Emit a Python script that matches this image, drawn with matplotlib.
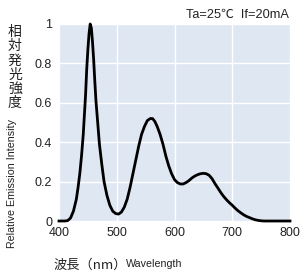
import matplotlib.pyplot as plt

plt.rcParams['font.family'] = ['Liberation Sans', 'Noto Sans CJK JP', 'DejaVu Sans']

# ---------------------------------------------------------------- data
wavelength = [400, 405, 410, 415, 420, 425, 430, 433, 436, 439, 442, 444, 446, 448,
              450, 452, 454, 456, 458, 460, 462, 464, 467, 470, 474, 478, 483, 488,
              493, 498, 503, 508, 513, 518, 523, 528, 533, 538, 543, 548, 553, 558,
              562, 566, 570, 575, 580, 585, 590, 595, 600, 605, 610, 615, 620, 625,
              630, 635, 640, 645, 650, 655, 660, 665, 670, 675, 680, 685, 690, 695,
              700, 705, 710, 715, 720, 725, 730, 735, 740, 745, 750, 755, 760, 780, 800]
intensity = [0, 0, 0, 0.002, 0.015, 0.05, 0.11, 0.17, 0.24, 0.33, 0.44, 0.54, 0.64, 0.77,
             0.87, 0.95, 1.0, 0.98, 0.91, 0.82, 0.71, 0.61, 0.5, 0.39, 0.29, 0.2, 0.13, 0.08,
             0.05, 0.038, 0.035, 0.045, 0.07, 0.11, 0.17, 0.24, 0.31, 0.38, 0.44, 0.48, 0.51, 0.52,
             0.52, 0.505, 0.48, 0.44, 0.39, 0.33, 0.28, 0.24, 0.21, 0.195, 0.188, 0.188, 0.195, 0.205,
             0.218, 0.228, 0.235, 0.24, 0.242, 0.24, 0.232, 0.215, 0.19, 0.168, 0.145, 0.125, 0.108, 0.093,
             0.08, 0.065, 0.052, 0.041, 0.031, 0.023, 0.017, 0.011, 0.006, 0.003, 0.001, 0, 0, 0, 0]

x_ticks = [400, 500, 600, 700, 800]
y_ticks = [0, 0.2, 0.4, 0.6, 0.8, 1]
y_tick_labels = ["0", "0.2", "0.4", "0.6", "0.8", "1"]

ylabel_jp = "相対発光強度"
JP = ['Noto Sans CJK JP', 'DejaVu Sans']
W, H = 305, 272   # pixel size, used to place the free texts

# ---------------------------------------------------------------- figure
fig = plt.figure(figsize=(W / 100, H / 100), dpi=100)
ax = fig.add_axes([59 / W, 1 - 221 / H, 231 / W, 197 / H])
ax.set_facecolor("#dfe7f3")

ax.plot(wavelength, intensity, color="black", lw=2.0, clip_on=False, zorder=3)

ax.set_xlim(400, 800)
ax.set_ylim(0, 1)
ax.set_xticks(x_ticks)
ax.set_yticks(y_ticks, y_tick_labels)
ax.grid(True, color="white", lw=1.0)
ax.set_axisbelow(True)
for s in ax.spines.values():
    s.set_visible(False)
ax.tick_params(length=0, labelsize=9, colors="#222222")
ax.tick_params(axis="x", pad=4)
ax.tick_params(axis="y", pad=5)

# y labels: Japanese stacked one char per line + rotated English
for i, ch in enumerate(ylabel_jp):
    fig.text(15 / W, 1 - (32 + i * 14.2) / H, ch, ha="center", va="center",
             fontsize=10, family=JP, color="#222222")
fig.text(12.5 / W, 1 - 248 / H, "Relative Emission Intensity", rotation=90,
         ha="center", va="bottom", fontsize=7.7, color="#222222")

# x labels
fig.text(54 / W, 1 - 265 / H, "波長（nm）", ha="left", va="center", fontsize=9.5,
         family=JP, color="#222222")
fig.text(126 / W, 1 - 264 / H, "Wavelength", ha="left", va="center", fontsize=7.7,
         color="#222222")

# conditions
fig.text(289 / W, 1 - 15 / H, "Ta=25\u2103  If=20mA", ha="right", va="center",
         fontsize=9.2, family=['Liberation Sans', 'Noto Sans CJK JP', 'DejaVu Sans'],
         color="#222222")

fig.savefig("out.png", dpi=100)
